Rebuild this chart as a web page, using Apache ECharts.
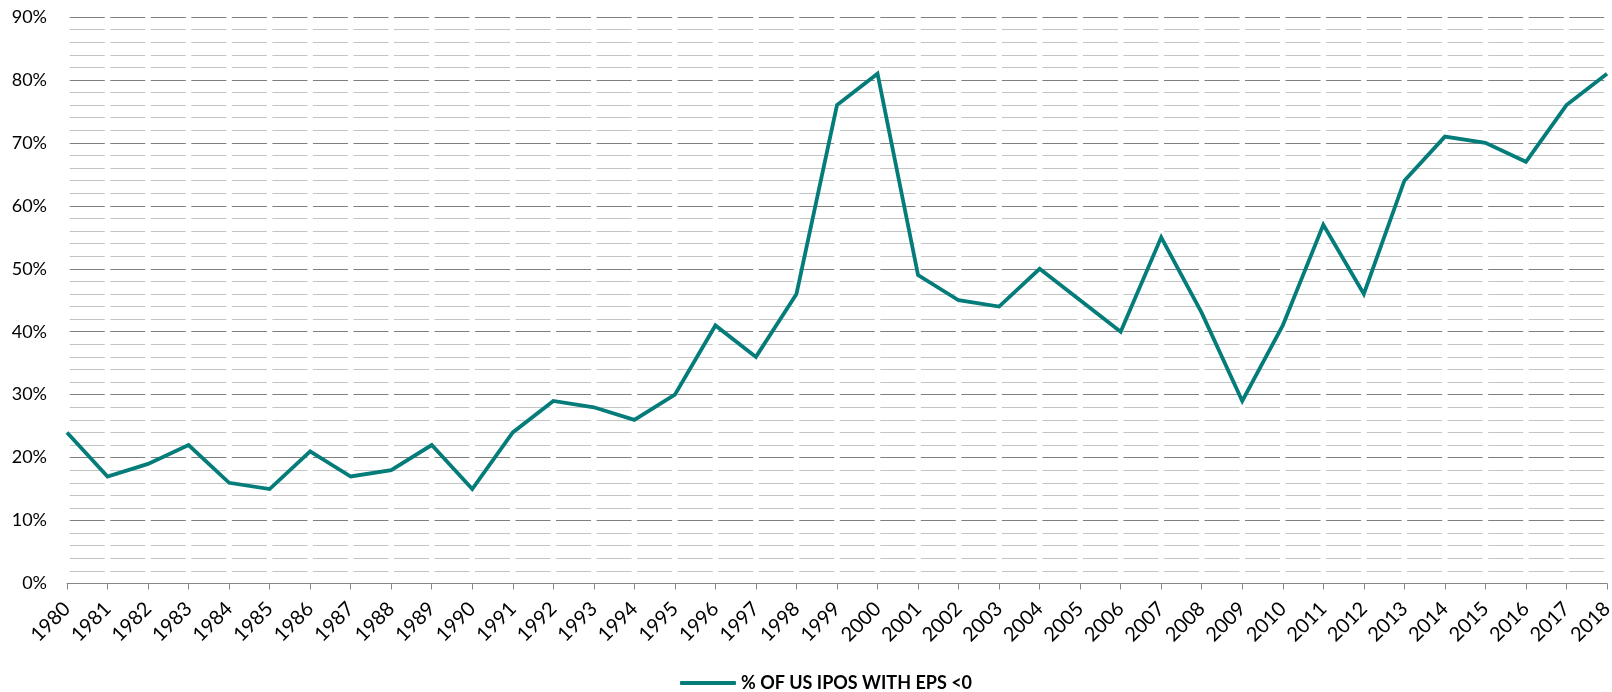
<!DOCTYPE html>
<html>
<head>
<meta charset="utf-8">
<script src="https://cdn.jsdelivr.net/npm/echarts@6/dist/echarts.min.js"></script>
<style>
  html, body { margin: 0; padding: 0; background: #fff; }
  #chart { width: 1612px; height: 692px; }
</style>
</head>
<body>
<div id="chart"></div>
<script>
// Share of US IPOs with negative earnings per share, by year
const years = ['1980','1981','1982','1983','1984','1985','1986','1987','1988','1989',
  '1990','1991','1992','1993','1994','1995','1996','1997','1998','1999',
  '2000','2001','2002','2003','2004','2005','2006','2007','2008','2009',
  '2010','2011','2012','2013','2014','2015','2016','2017','2018'];
const negativeEpsShare = [24,17,19,22,16,15,21,17,18,22,
  15,24,29,28,26,30,41,36,46,76,
  81,49,45,44,50,45,40,55,43,29,
  41,57,46,64,71,70,67,76,81];
const seriesName = '% OF US IPOS WITH EPS <0';

const gridLeft = 67, gridRight = 5, gridTop = 17, gridBottom = 108.5;
const plotWidth = 1612 - gridLeft - gridRight;
const step = plotWidth / (years.length - 1);
const gap = 5.5;
// gridlines broken at every category position
const dashPattern = [step - gap, gap];
const dashOffset = step - gap / 2;
const lineColor = '#047c79';

const chart = echarts.init(document.getElementById('chart'), null, { renderer: 'canvas' });
chart.setOption({
  animation: false,
  textStyle: { fontFamily: 'Lato' },
  grid: {
    left: gridLeft, right: gridRight, top: gridTop, bottom: gridBottom,
    containLabel: false,
    outerBoundsMode: 'none'
  },
  legend: {
    left: 680,
    top: 674,
    padding: 0,
    itemWidth: 56,
    itemHeight: 4,
    itemGap: 10,
    textStyle: { fontFamily: 'Lato', fontWeight: 'bold', fontSize: 18, color: '#000' },
    data: [{ name: seriesName, icon: 'roundRect', itemStyle: { color: lineColor } }]
  },
  xAxis: {
    type: 'category',
    data: years,
    boundaryGap: false,
    axisLine: { lineStyle: { color: '#868686', width: 1 } },
    axisTick: { show: true, length: 6, lineStyle: { color: '#868686' } },
    axisLabel: { rotate: 45, margin: 22, fontSize: 20, color: '#000', fontFamily: 'Lato', interval: 0, hideOverlap: false },
    splitLine: { show: false }
  },
  yAxis: {
    type: 'value',
    min: 0,
    max: 90,
    interval: 10,
    axisLine: { show: false },
    axisTick: { show: false },
    axisLabel: { formatter: '{value}%', margin: 20, fontSize: 18, color: '#000', fontFamily: 'Lato' },
    splitLine: {
      show: true,
      lineStyle: { color: '#7f7f7f', width: 1, type: dashPattern, dashOffset: dashOffset }
    },
    minorTick: { show: false, splitNumber: 5 },
    minorSplitLine: {
      show: true,
      lineStyle: { color: '#c4c4c4', width: 1, type: dashPattern, dashOffset: dashOffset }
    }
  },
  series: [{
    name: seriesName,
    type: 'line',
    data: negativeEpsShare,
    symbol: 'none',
    lineStyle: { color: lineColor, width: 3.8, join: 'miter' },
    itemStyle: { color: lineColor }
  }]
});
</script>
</body>
</html>
